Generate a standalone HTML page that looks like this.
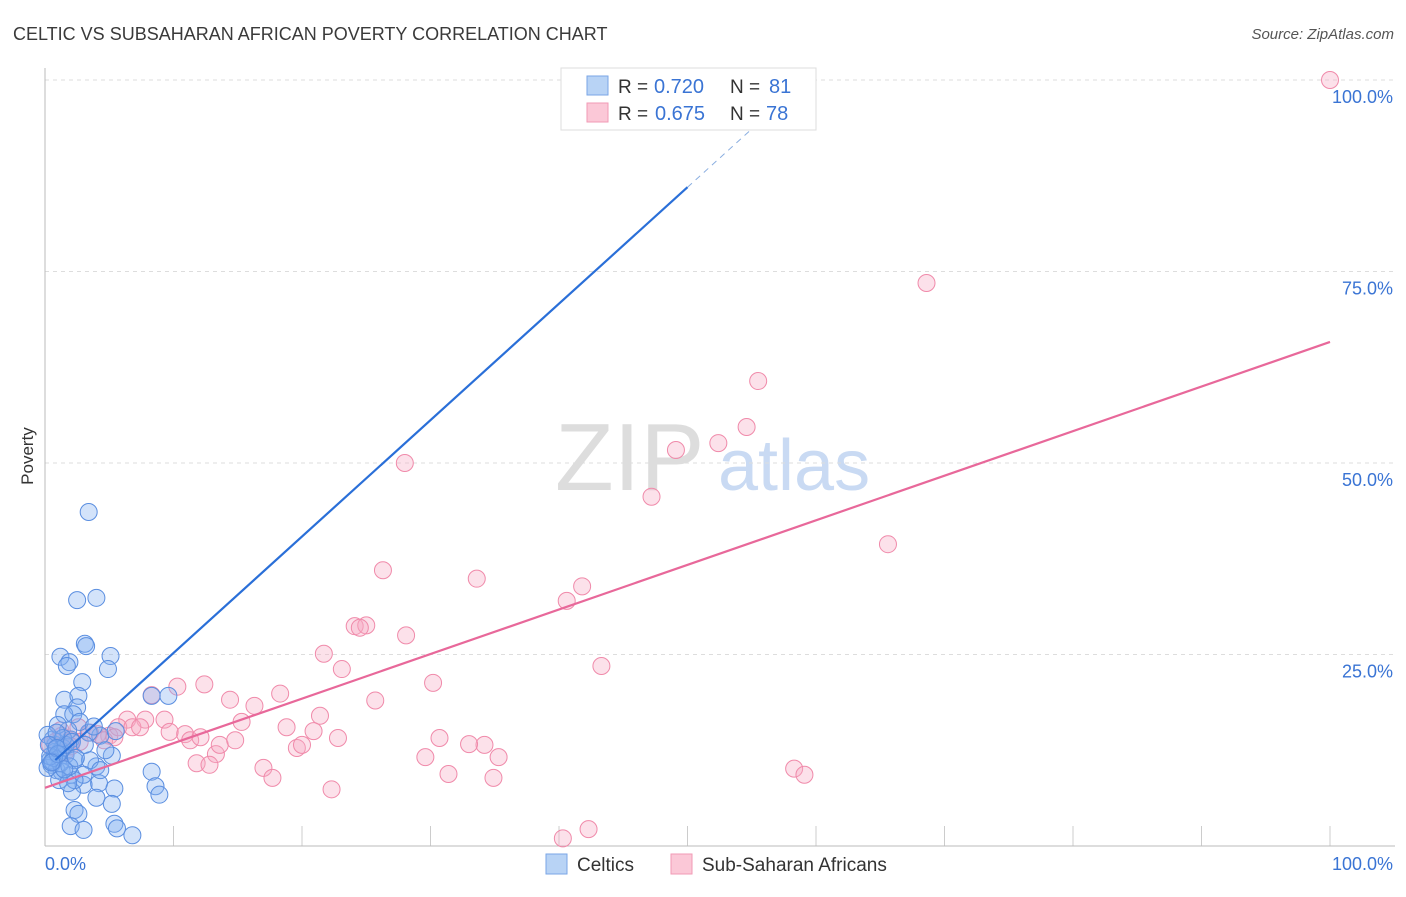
<!DOCTYPE html>
<html><head><meta charset="utf-8"><style>
body{margin:0;background:#fff;font-family:"Liberation Sans",sans-serif;}
svg text{font-family:"Liberation Sans",sans-serif;}
</style></head><body>
<svg width="1406" height="892">
<text x="13" y="40" font-size="18" fill="#3a3a3a">CELTIC VS SUBSAHARAN AFRICAN POVERTY CORRELATION CHART</text>
<text x="1394" y="39" font-size="15" fill="#555" font-style="italic" text-anchor="end">Source: ZipAtlas.com</text>
<text x="33" y="456" font-size="17" fill="#333" transform="rotate(-90 33 456)" text-anchor="middle">Poverty</text>
<text x="555" y="490" font-size="96" fill="#ddd" font-family="Liberation Serif">ZIP</text>
<text x="718" y="490" font-size="72" fill="#c9daf3">atlas</text>
<g id="grid"></g>
<g id="pts"></g>
<g id="lines"></g>
<g>
<rect x="561" y="68" width="255" height="62" fill="#fff" stroke="#ddd"/>
<rect x="587" y="76" width="21" height="19" fill="#b8d3f5" stroke="#7aa6e6"/>
<rect x="587" y="103" width="21" height="19" fill="#fbc8d7" stroke="#f29ab5"/>
<text x="618" y="93" font-size="19" fill="#333">R =</text>
<text x="654" y="93" font-size="20" fill="#3a74d4">0.720</text>
<text x="730" y="93" font-size="19" fill="#333">N =</text>
<text x="769" y="93" font-size="20" fill="#3a74d4">81</text>
<text x="618" y="120" font-size="19" fill="#333">R =</text>
<text x="655" y="120" font-size="20" fill="#3a74d4">0.675</text>
<text x="730" y="120" font-size="19" fill="#333">N =</text>
<text x="766" y="120" font-size="20" fill="#3a74d4">78</text>
</g>
<g>
<rect x="546" y="854" width="21" height="20" fill="#b8d3f5" stroke="#7aa6e6"/>
<text x="577" y="871" font-size="19" fill="#333">Celtics</text>
<rect x="671" y="854" width="21" height="20" fill="#fbc8d7" stroke="#f29ab5"/>
<text x="702" y="871" font-size="19" fill="#333">Sub-Saharan Africans</text>
</g>
<text x="45" y="870" font-size="18" fill="#3a74d4">0.0%</text>
<text x="1393" y="870" font-size="18" fill="#3a74d4" text-anchor="end">100.0%</text>
</svg>
<script>
const blueX=[3.4,2.5,4,3.1,3.2,1.2,1.9,1.7,5.1,4.9,2.9,1.5,2.6,2.5,1.5,2.2,8.3,9.6,4.3,5.2,4.0,5.4,4.2,3.0,2.1,4.0,2.3,2.6,5.2,2.0,3.0,5.4,5.6,6.8,8.3,8.6,8.9,3.4,2.0,0.8,1.2,1.6,0.4,0.5,0.9,1.3,2.0,0.2,0.8,1.4,2.3,3.5,0.6,2.7,1.8,1.0,0.2,4.7,3.0,2.3,1.2,0.7,1.6,0.4,1.9,3.8,5.5,1.4,2.1,0.9,0.3,3.1,4.3,1.1,1.8,0.6,1.0,1.5,0.9,2.4,0.5];
const blueY=[43.6,32.1,32.4,26.4,26.1,24.7,24.0,23.5,24.8,23.1,21.4,19.1,19.6,18.1,17.2,17.2,19.6,19.6,14.4,11.8,10.4,7.5,8.2,8.0,7.1,6.3,4.7,4.2,5.5,2.6,2.1,2.9,2.3,1.4,9.7,7.8,6.7,14.8,13.9,13.2,12.5,11.9,11.2,10.6,9.9,9.7,9.3,10.2,12.3,12.8,11.2,11.2,13.9,16.2,15.1,15.8,14.5,12.5,9.3,8.6,10.8,11.5,13.2,11.7,10.4,15.6,15.0,14.1,13.6,14.8,13.2,13.2,9.9,8.6,8.2,11.0,12.0,10.0,12.8,11.5,10.9];
const pinkX=[100,68.6,55.5,54.6,52.4,49.1,47.2,28,65.6,26.3,33.6,41.8,40.6,24.1,25,24.5,28.1,21.7,23.1,43.3,30.2,25.7,18.3,12.4,10.3,8.3,14.4,16.3,21.4,15.3,18.8,20.9,22.8,30.7,34.2,33,35.3,29.6,19.6,20,13.3,11.8,12.8,17.0,17.7,31.4,34.9,22.3,58.3,59.1,40.3,42.3,5.0,6.4,7.8,9.3,10.9,11.3,9.7,5.7,6.8,4.1,2.6,1.3,0.8,2.1,3.5,4.6,0.4,1.6,2.7,1.2,2.0,5.4,7.4,12.1,13.6,14.8];
const pinkY=[100,73.5,60.7,54.7,52.6,51.7,45.6,50.0,39.4,36.0,34.9,33.9,32.0,28.7,28.8,28.5,27.5,25.1,23.1,23.5,21.3,19.0,19.9,21.1,20.8,19.7,19.1,18.3,17.0,16.2,15.5,15.0,14.1,14.1,13.2,13.3,11.6,11.6,12.8,13.2,12.0,10.8,10.6,10.2,8.9,9.4,8.9,7.4,10.1,9.3,1.0,2.2,14.4,16.5,16.5,16.5,14.6,13.8,14.9,15.5,15.5,14.6,15.5,14.4,13.6,13.8,14.8,13.8,13.2,12.3,13.6,15.1,13.0,14.2,15.5,14.2,13.2,13.8];
const ticksY=[25,50,75,100];
const yTickLabels=["25.0%","50.0%","75.0%","100.0%"];
const ticksX=[10,20,30,40,50,60,70,80,90,100];
const blueFit=[10.0,1.52];
const pinkFit=[7.6,0.582];
const X=v=>45+v*12.85, Y=v=>846-v*7.66;
const NS="http://www.w3.org/2000/svg";
function mk(t,a,p){const e=document.createElementNS(NS,t);for(const k in a)e.setAttribute(k,a[k]);p.appendChild(e);return e;}
const g=document.getElementById('grid');
ticksY.forEach((t,i)=>{
 const l=mk('line',{x1:45,x2:1395,y1:Y(t),y2:Y(t),stroke:'#ddd','stroke-dasharray':'4,4'},g);
 
 
 const tx=mk('text',{x:1393,y:Y(t)+23,'font-size':18,fill:'#3a74d4','text-anchor':'end'},g);
 tx.textContent=yTickLabels[i];
 
 
});
ticksX.forEach(t=>{
 const l=mk('line',{x1:X(t),x2:X(t),y1:826,y2:846,stroke:'#ccc'},g);
 
 
});
const ax=mk('line',{x1:45,x2:45,y1:68,y2:846,stroke:'#bbb'},g);


const bx=mk('line',{x1:45,x2:1395,y1:846,y2:846,stroke:'#bbb'},g);


const p=document.getElementById('pts');
pinkX.forEach((x,i)=>{
 const c=mk('circle',{cx:X(x),cy:Y(pinkY[i]),r:8.5,fill:'rgba(246,170,195,0.35)',stroke:'#f08aaa','stroke-width':1},p);
 
 
});
blueX.forEach((x,i)=>{
 const c=mk('circle',{cx:X(x),cy:Y(blueY[i]),r:8.5,fill:'rgba(130,175,240,0.35)',stroke:'#5a8ee0','stroke-width':1},p);
 
 
});
const L=document.getElementById('lines');
const bEnd=50, bTop=(100-blueFit[0])/blueFit[1];
let l1=mk('line',{x1:X(0.8),y1:Y(blueFit[0]+blueFit[1]*0.8),x2:X(bEnd),y2:Y(blueFit[0]+blueFit[1]*bEnd),stroke:'#2a6fd8','stroke-width':2.2},L);


let l2=mk('line',{x1:X(bEnd),y1:Y(blueFit[0]+blueFit[1]*bEnd),x2:X(bTop),y2:Y(100),stroke:'#8aaee0','stroke-width':1,'stroke-dasharray':'6,5'},L);


let l3=mk('line',{x1:X(0),y1:Y(pinkFit[0]),x2:X(100),y2:Y(pinkFit[0]+pinkFit[1]*100),stroke:'#e8689a','stroke-width':2.2},L);


</script>
</body></html>
